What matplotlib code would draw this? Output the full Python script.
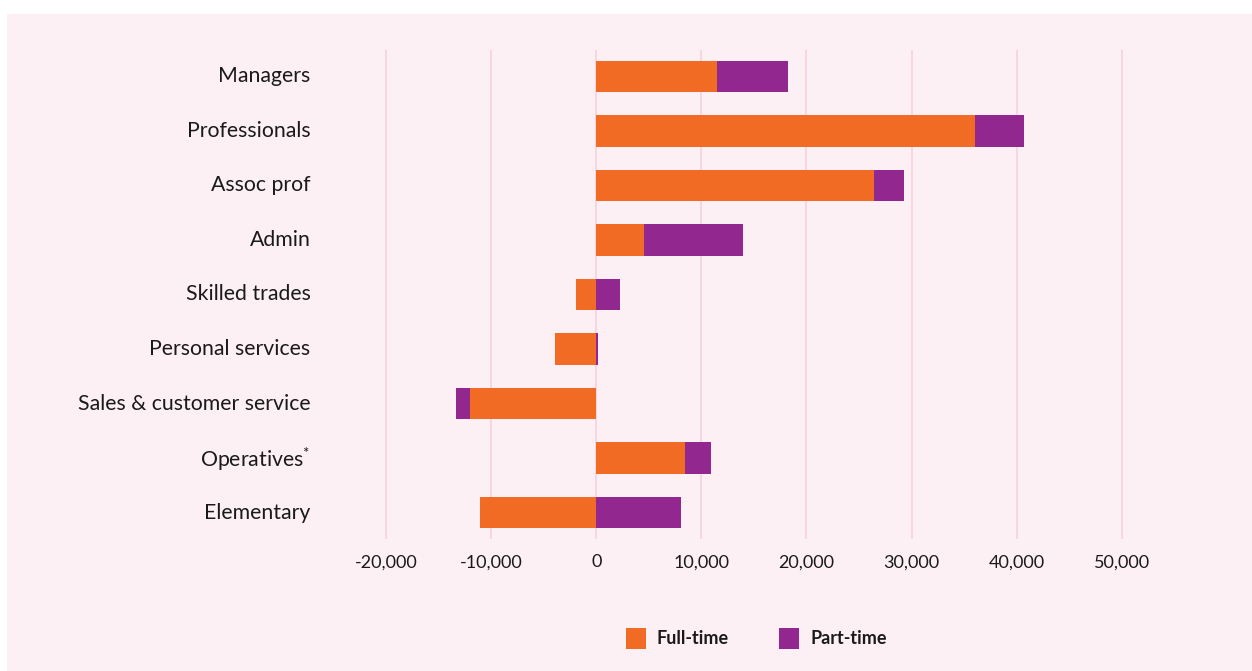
import matplotlib.pyplot as plt
from matplotlib.patches import Rectangle
from matplotlib.transforms import ScaledTranslation
import numpy as np

# employment change by occupation, full-time vs part-time
occupations = ['Managers', 'Professionals', 'Assoc prof', 'Admin', 'Skilled trades',
               'Personal services', 'Sales & customer service', 'Operatives$^{*}$', 'Elementary']
full_time = [11500, 36000, 26450, 4550, -1950, -3900, -12000, 8450, -11050]
part_time = [6750, 4700, 2800, 9400, 2250, 150, -1300, 2500, 8100]
ticks = [-20000, -10000, 0, 10000, 20000, 30000, 40000, 50000]

orange = '#F26B24'
purple = '#92278F'
bg = '#FDF0F4'
grid = '#F7D4E1'

plt.rcParams['font.family'] = ['Lato', 'DejaVu Sans']
plt.rcParams['mathtext.fontset'] = 'custom'
plt.rcParams['mathtext.rm'] = 'Lato'

W, H = 1252, 671
fig = plt.figure(figsize=(W / 100, H / 100), dpi=100)
fig.patch.set_facecolor('white')
fig.patches.append(Rectangle((7 / W, 0), 1 - 7 / W, 1 - 14 / H, transform=fig.transFigure,
                             facecolor=bg, edgecolor='none', zorder=-10))

# axes placed in pixel terms: zero at x=596, 10,000 every 105 px
zero_px, per_10k = 596.2, 105.1
left_px, right_px = 380, 1127
top_px, bottom_px = 50, 539
ax = fig.add_axes([left_px / W, 1 - bottom_px / H, (right_px - left_px) / W, (bottom_px - top_px) / H])
ax.set_facecolor('none')
ax.set_xlim((left_px - zero_px) / per_10k * 10000, (right_px - zero_px) / per_10k * 10000)

ft = np.array(full_time)
pt = np.array(part_time)
y = np.arange(len(occupations))
pt_left = np.where(np.sign(pt) == np.sign(ft), ft, 0)

ax.barh(y, ft, height=0.57, color=orange, zorder=3)
ax.barh(y, pt, left=pt_left, height=0.57, color=purple, zorder=3)

ax.set_ylim(len(occupations) - 1 + 0.486, -0.486)
ax.set_yticks(y)
ax.set_yticklabels(occupations, fontsize=15.3, color='#1a1a1a')
ax.set_xticks(ticks)
ax.set_xticklabels([f'{t:,}' for t in ticks], fontsize=13, color='#1a1a1a')
ax.tick_params(axis='x', length=0, pad=11)
ax.tick_params(axis='y', length=0, pad=50)
up = ScaledTranslation(0, 2 / 100, fig.dpi_scale_trans)
for lab in ax.get_yticklabels():
    lab.set_transform(lab.get_transform() + up)
for t in ticks:
    ax.axvline(t, color=grid, lw=1.3, zorder=1)
for s in ax.spines.values():
    s.set_visible(False)

# legend
for x0, label, c in [(626, 'Full-time', orange), (779, 'Part-time', purple)]:
    fig.patches.append(Rectangle((x0 / W, 1 - 649 / H), 20 / W, 21 / H,
                                 transform=fig.transFigure, facecolor=c, edgecolor='none'))
    fig.text((x0 + 31) / W, 1 - 638.5 / H, label, fontsize=13, fontweight='bold',
             color='#1a1a1a', va='center', ha='left')

fig.savefig('out.png', dpi=100)
